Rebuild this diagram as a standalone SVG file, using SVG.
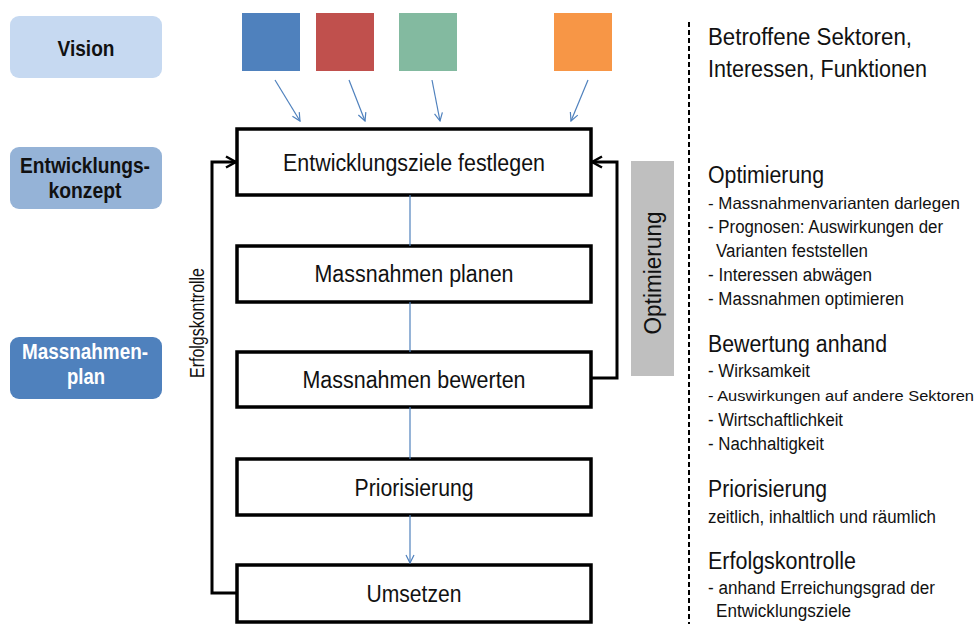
<svg xmlns="http://www.w3.org/2000/svg" width="979" height="624" viewBox="0 0 979 624">
<defs>
<marker id="blueArrow" viewBox="0 0 10 10" refX="9" refY="5" markerWidth="10" markerHeight="10" markerUnits="userSpaceOnUse" orient="auto">
<path d="M1,1 L9,5 L1,9" fill="none" stroke="#4F81BD" stroke-width="1.2"/>
</marker>
<marker id="blackArrow" viewBox="0 0 14 14" refX="12" refY="7" markerWidth="14" markerHeight="14" markerUnits="userSpaceOnUse" orient="auto">
<path d="M2,1.5 L12,7 L2,12.5" fill="none" stroke="#000" stroke-width="2.5"/>
</marker>
</defs>
<style>
.lbl{font-family:"Liberation Sans Narrow","Liberation Sans",Arial,sans-serif;font-weight:bold;font-size:22px;text-anchor:middle}
.box{fill:#fff;stroke:#000;stroke-width:3.5}
.bt{font-family:"Liberation Sans Narrow","Liberation Sans",Arial,sans-serif;font-size:23px;text-anchor:middle;fill:#111}
.rh{font-family:"Liberation Sans Narrow","Liberation Sans",Arial,sans-serif;font-size:23px;fill:#111}
.ri{font-family:"Liberation Sans Narrow","Liberation Sans",Arial,sans-serif;font-size:18px;fill:#111}
.blue{stroke:#4F81BD;stroke-width:1.2;fill:none}
.fb{stroke:#000;stroke-width:3;fill:none}
</style>
<rect width="979" height="624" fill="#fff"/>

<g id="label-vision">
<rect x="10" y="16" width="152" height="62" rx="9" fill="#C6D9F1"/>
<text class="lbl" x="86" y="56" fill="#111" textLength="57" lengthAdjust="spacingAndGlyphs">Vision</text>
</g>
<g id="label-entwicklungskonzept">
<rect x="10" y="147" width="152" height="62" rx="9" fill="#95B3D7"/>
<text class="lbl" x="85" y="173" fill="#111" textLength="130" lengthAdjust="spacingAndGlyphs">Entwicklungs-</text>
<text class="lbl" x="85" y="198" fill="#111" textLength="73" lengthAdjust="spacingAndGlyphs">konzept</text>
</g>
<g id="label-massnahmenplan">
<rect x="10" y="337" width="152" height="62" rx="9" fill="#4F81BD"/>
<text class="lbl" x="85" y="359" fill="#fff" textLength="126" lengthAdjust="spacingAndGlyphs">Massnahmen-</text>
<text class="lbl" x="86" y="384" fill="#fff" textLength="38" lengthAdjust="spacingAndGlyphs">plan</text>
</g>

<g id="sq-blue"><rect x="242" y="13" width="58" height="58" fill="#4F81BD"/></g>
<g id="sq-red"><rect x="316" y="13" width="58" height="58" fill="#C0504D"/></g>
<g id="sq-green"><rect x="399" y="13" width="58" height="58" fill="#83BAA0"/></g>
<g id="sq-orange"><rect x="554" y="13" width="58" height="58" fill="#F79646"/></g>

<g id="node-entwicklungsziele">
<rect class="box" x="237" y="129" width="354" height="66"/>
<text class="bt" x="414" y="171" textLength="262" lengthAdjust="spacingAndGlyphs">Entwicklungsziele festlegen</text>
</g>
<g id="node-planen">
<rect class="box" x="237" y="246" width="354" height="56"/>
<text class="bt" x="414" y="282" textLength="199" lengthAdjust="spacingAndGlyphs">Massnahmen planen</text>
</g>
<g id="node-bewerten">
<rect class="box" x="237" y="352" width="354" height="55"/>
<text class="bt" x="414" y="388" textLength="223" lengthAdjust="spacingAndGlyphs">Massnahmen bewerten</text>
</g>
<g id="node-priorisierung">
<rect class="box" x="237" y="459" width="354" height="56"/>
<text class="bt" x="414" y="496" textLength="119" lengthAdjust="spacingAndGlyphs">Priorisierung</text>
</g>
<g id="node-umsetzen">
<rect class="box" x="237" y="565" width="354" height="57"/>
<text class="bt" x="414" y="602" textLength="95" lengthAdjust="spacingAndGlyphs">Umsetzen</text>
</g>

<g id="node-optimierung-bar">
<rect x="631" y="161" width="43" height="215" fill="#BFBFBF"/>
<text class="rh" x="0" y="0" transform="translate(661,273) rotate(-90)" text-anchor="middle" fill="#333" textLength="123" lengthAdjust="spacingAndGlyphs">Optimierung</text>
</g>

<g id="connectors">
<line class="blue" x1="275" y1="80" x2="300" y2="121" marker-end="url(#blueArrow)"/>
<line class="blue" x1="349" y1="80" x2="365" y2="121" marker-end="url(#blueArrow)"/>
<line class="blue" x1="432" y1="80" x2="440" y2="121" marker-end="url(#blueArrow)"/>
<line class="blue" x1="588" y1="80" x2="571" y2="121" marker-end="url(#blueArrow)"/>
<line class="blue" x1="410" y1="195" x2="410" y2="246"/>
<line class="blue" x1="410" y1="302" x2="410" y2="352"/>
<line class="blue" x1="410" y1="407" x2="410" y2="459"/>
<line class="blue" x1="410" y1="515" x2="410" y2="563" marker-end="url(#blueArrow)"/>
<path class="fb" d="M237,593 H212 V162 H236" marker-end="url(#blackArrow)"/>
<path class="fb" d="M591,378 H617 V162 H592" marker-end="url(#blackArrow)"/>
<text class="ri" x="0" y="0" transform="translate(204,323) rotate(-90)" text-anchor="middle" style="font-size:20px" textLength="110" lengthAdjust="spacingAndGlyphs">Erfolgskontrolle</text>
</g>

<line x1="689" y1="22" x2="689" y2="624" stroke="#000" stroke-width="2" stroke-dasharray="5,3"/>

<g id="notes">
<text class="rh" x="708" y="45" textLength="204" lengthAdjust="spacingAndGlyphs">Betroffene  Sektoren,</text>
<text class="rh" x="708" y="77" textLength="219" lengthAdjust="spacingAndGlyphs">Interessen, Funktionen</text>

<text class="rh" x="708" y="183" textLength="116" lengthAdjust="spacingAndGlyphs">Optimierung</text>
<text class="ri" x="708" y="209" style="font-size:16.5px" textLength="252" lengthAdjust="spacingAndGlyphs">- Massnahmenvarianten darlegen</text>
<text class="ri" x="708" y="233" textLength="235" lengthAdjust="spacingAndGlyphs">- Prognosen: Auswirkungen der</text>
<text class="ri" x="716" y="257" textLength="152" lengthAdjust="spacingAndGlyphs">Varianten feststellen</text>
<text class="ri" x="708" y="281" textLength="164" lengthAdjust="spacingAndGlyphs">- Interessen abwägen</text>
<text class="ri" x="708" y="305" textLength="196" lengthAdjust="spacingAndGlyphs">- Massnahmen optimieren</text>

<text class="rh" x="708" y="352" textLength="179" lengthAdjust="spacingAndGlyphs">Bewertung anhand</text>
<text class="ri" x="708" y="377" textLength="102" lengthAdjust="spacingAndGlyphs">- Wirksamkeit</text>
<text class="ri" x="708" y="401" style="font-size:15.5px" textLength="266" lengthAdjust="spacingAndGlyphs">- Auswirkungen auf andere Sektoren</text>
<text class="ri" x="708" y="426" textLength="135" lengthAdjust="spacingAndGlyphs">- Wirtschaftlichkeit</text>
<text class="ri" x="708" y="450" textLength="116" lengthAdjust="spacingAndGlyphs">- Nachhaltigkeit</text>

<text class="rh" x="708" y="497" textLength="119" lengthAdjust="spacingAndGlyphs">Priorisierung</text>
<text class="ri" x="708" y="523" textLength="228" lengthAdjust="spacingAndGlyphs">zeitlich, inhaltlich und räumlich</text>

<text class="rh" x="708" y="569" textLength="148" lengthAdjust="spacingAndGlyphs">Erfolgskontrolle</text>
<text class="ri" x="708" y="594" textLength="227" lengthAdjust="spacingAndGlyphs">- anhand Erreichungsgrad der</text>
<text class="ri" x="716" y="617" textLength="135" lengthAdjust="spacingAndGlyphs">Entwicklungsziele</text>
</g>
</svg>
